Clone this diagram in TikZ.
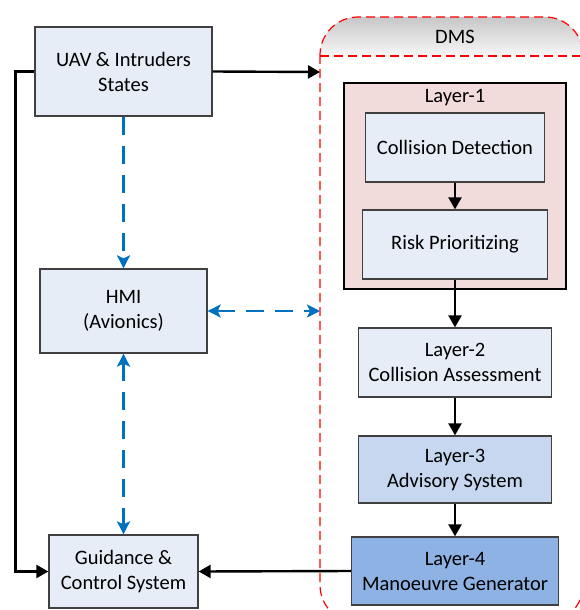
\documentclass[tikz,border=0pt]{standalone}
\usepackage{fontspec}
\setmainfont{Carlito}
\usetikzlibrary{arrows.meta}
\definecolor{boxfill}{HTML}{E7EDF7}
\definecolor{l3fill}{HTML}{C6D7EF}
\definecolor{l4fill}{HTML}{8EB2E3}
\definecolor{l1fill}{HTML}{F2DCDB}
\definecolor{boxline}{HTML}{404040}
\definecolor{hmiblue}{HTML}{0070C0}
\tikzset{
  blk/.style={draw=boxline, line width=1.3pt, fill=boxfill, align=center, inner sep=0pt,
    font=\fontsize{20.5}{25}\selectfont},
  flow/.style={line width=2.4pt, -{Triangle[length=12pt,width=13pt]}},
  link/.style={line width=2.4pt, draw=hmiblue, dash pattern=on 18pt off 11pt,
    {Stealth[length=13pt,width=13pt,inset=3pt]}-{Stealth[length=13pt,width=13pt,inset=3pt]}},
  linkone/.style={line width=2.4pt, draw=hmiblue, dash pattern=on 18pt off 11pt,
    -{Stealth[length=13pt,width=13pt,inset=3pt]}},
  dmsline/.style={draw=red, line width=1.2pt, dash pattern=on 9pt off 5pt},
  lbl/.style={font=\fontsize{20.5}{25}\selectfont, inner sep=0pt}
}
\begin{document}
\begin{tikzpicture}[x=1pt,y=-1pt]
\useasboundingbox (0,0) rectangle (579,610);
% DMS region
\begin{scope}
\clip[rounded corners=38pt] (320,17) rectangle (583,623);
\shade[top color=black!22, bottom color=black!3] (320,17) rectangle (583,56);
\end{scope}
\draw[dmsline, rounded corners=38pt] (320,17) rectangle (583,623);
\draw[dmsline] (320,56) -- (583,56);
\node[lbl] (dms) at (455,37) {DMS};
\coordinate (dmsin) at (320,72);
\coordinate (dmshmi) at (320,311);
% Layer-1 container
\node[draw=black, line width=1.3pt, fill=l1fill, minimum width=222pt, minimum height=206pt, inner sep=0pt] (l1) at (455,186) {};
\node[lbl] (l1lbl) at (455,98) {Layer-1};
% boxes
\node[blk, minimum width=177pt, minimum height=89pt] (uav) at (123.5,71.5) {UAV \& Intruders\\States};
\node[blk, minimum width=167pt, minimum height=84pt] (hmi) at (123.5,311) {HMI\\(Avionics)};
\node[blk, minimum width=149pt, minimum height=73pt] (gcs) at (123.5,571.5) {Guidance \&\\Control System};
\node[blk, minimum width=179pt, minimum height=69pt] (cd) at (455,147.5) {Collision Detection};
\node[blk, minimum width=185pt, minimum height=69pt] (rp) at (455,244.5) {Risk Prioritizing};
\node[blk, minimum width=193pt, minimum height=69pt] (l2) at (455,362.5) {Layer-2\\Collision Assessment};
\node[blk, fill=l3fill, minimum width=193pt, minimum height=67pt] (l3) at (455,469.5) {Layer-3\\Advisory System};
\node[blk, fill=l4fill, minimum width=207pt, minimum height=68pt] (l4) at (455,571) {Layer-4\\Manoeuvre Generator};
% black flows
\draw[flow] (uav.east) -- (dmsin);
\draw[flow] (uav.west) -- ++(-19,0) |- (gcs.west);
\draw[flow] (cd.south) -- (rp.north);
\draw[flow] (rp.south) -- (l2.north);
\draw[flow] (l2.south) -- (l3.north);
\draw[flow] (l3.south) -- (l4.north);
\draw[flow] (l4.west) -- (gcs.east);
% blue links
\draw[linkone] (uav.south) -- (hmi.north);
\draw[link] (hmi.south) -- (gcs.north);
\draw[link] (hmi.east) -- (dmshmi);
\end{tikzpicture}
\end{document}
